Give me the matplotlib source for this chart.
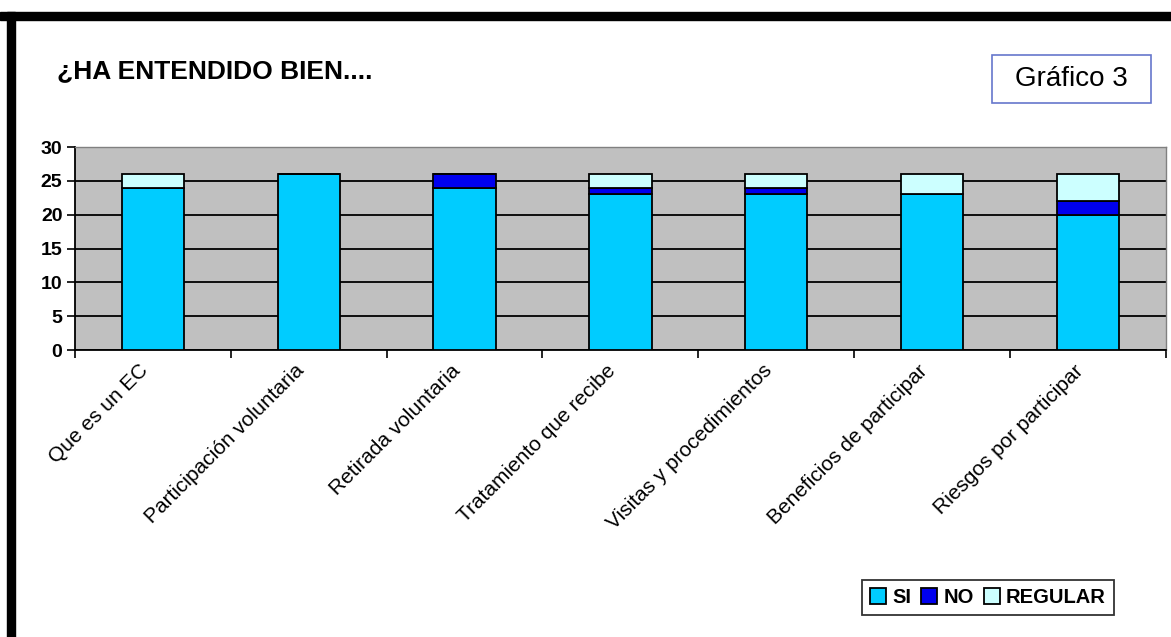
import numpy as np
import matplotlib.pyplot as plt
import matplotlib.patches as mpatches
import matplotlib.transforms as mtrans

plt.rcParams['font.family'] = ['Liberation Sans', 'DejaVu Sans']

categorias = ['Que es un EC', 'Participación voluntaria', 'Retirada voluntaria',
              'Tratamiento que recibe', 'Visitas y procedimientos',
              'Beneficios de participar', 'Riesgos por participar']
si = [24, 26, 24, 23, 23, 23, 20]
no = [0, 0, 2, 1, 1, 0, 2]
regular = [2, 0, 0, 2, 2, 3, 4]

fig = plt.figure(figsize=(11.71, 6.37), dpi=100)
ax = fig.add_axes([0.064, 0.4505, 0.9315, 0.3185])

x = np.arange(len(categorias))
si = np.array(si)
no = np.array(no)
regular = np.array(regular)
w = 0.4
kw = dict(width=w, edgecolor='black', linewidth=1.3, zorder=3)
ax.bar(x, si, color='#00CCFF', label='SI', **kw)
ax.bar(x, no, bottom=si, color='#0000EE', label='NO', **kw)
ax.bar(x, regular, bottom=si + no, color='#CCFFFF', label='REGULAR', **kw)

ax.set_facecolor('#C0C0C0')
ax.set_xlim(-0.5, len(categorias) - 0.5)
ax.set_ylim(0, 30)
ax.set_yticks(range(0, 31, 5))
ax.yaxis.grid(True, color='black', linewidth=1.3, zorder=1)
ax.set_axisbelow(True)

# ticks between categories, labels at centres
ax.set_xticks(np.arange(-0.5, len(categorias), 1.0))
ax.set_xticklabels([])
ax.set_xticks(x, minor=True)
ax.set_xticklabels(categorias, minor=True, rotation=45, ha='right',
                   rotation_mode='anchor', fontsize=15)
ax.tick_params(axis='x', which='minor', length=0, pad=8)
ax.tick_params(axis='x', which='major', length=6, width=1.2, direction='out')
ax.tick_params(axis='y', length=6, width=1.2, direction='out', labelsize=14, pad=3)
for t in ax.get_yticklabels():
    t.set_fontweight('bold')
shift = mtrans.ScaledTranslation(-0.14, 0.0, fig.dpi_scale_trans)
for t in ax.get_xticklabels(minor=True):
    t.set_transform(t.get_transform() + shift)

for s in ['left', 'bottom']:
    ax.spines[s].set_color('black')
    ax.spines[s].set_linewidth(1.3)
for s in ['top', 'right']:
    ax.spines[s].set_color('#808080')
    ax.spines[s].set_linewidth(1.0)

# title and box
fig.text(0.049, 0.888, '¿HA ENTENDIDO BIEN....', fontsize=19, fontweight='bold',
         va='center', ha='left')
fig.patches.append(mpatches.Rectangle((0.847, 0.8383), 0.1358, 0.0754,
                                      transform=fig.transFigure, facecolor='white',
                                      edgecolor='#6677CC', linewidth=1.2))
fig.text(0.9146, 0.876, 'Gráfico 3', fontsize=20, va='center', ha='center')

leg = fig.legend(loc='center', bbox_to_anchor=(0.8437, 0.062), ncol=3,
                 frameon=True, fancybox=False, edgecolor='black',
                 prop={'weight': 'bold', 'size': 14.5}, handlelength=0.8,
                 handleheight=0.8, handletextpad=0.3, columnspacing=0.5,
                 borderpad=0.4, borderaxespad=0)
leg.get_frame().set_linewidth(1.3)

# thick black frame on top and left
fig.patches.append(mpatches.Rectangle((0, 1 - 20 / 637), 1, 8 / 637, transform=fig.transFigure,
                                      color='black', zorder=10))
fig.patches.append(mpatches.Rectangle((7 / 1171, 0), 8 / 1171, 1 - 12 / 637,
                                      transform=fig.transFigure, color='black', zorder=10))

fig.savefig('out.png', dpi=100)
